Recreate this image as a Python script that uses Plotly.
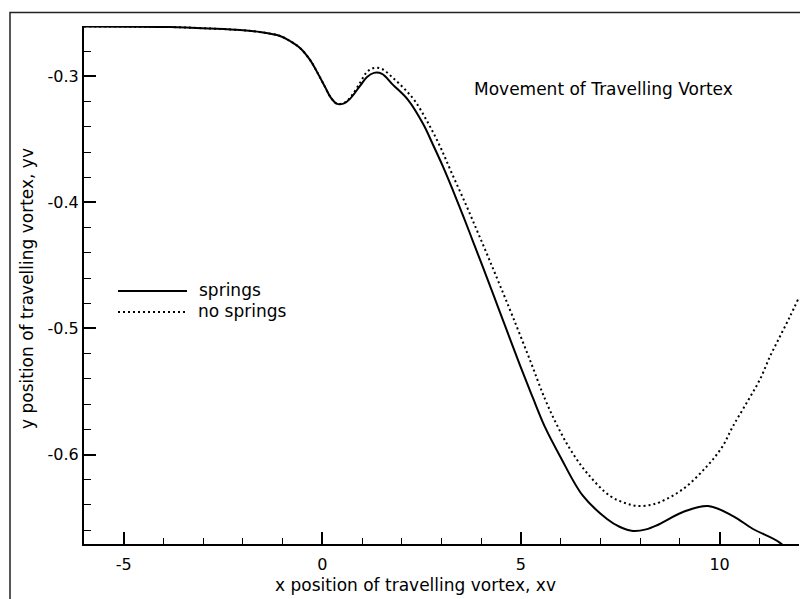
import plotly.graph_objects as go

# ---- data ----
springs_x = [-6.0, -4.842, -3.835, -2.828, -2.073, -1.569, -1.066, -0.814, -0.562, -0.310, -0.134, 0.067,
             0.218, 0.370, 0.546, 0.697, 0.949, 1.125, 1.301, 1.502, 1.779, 2.157, 2.535, 2.786, 3.038,
             3.290, 3.542, 3.794, 4.045, 4.322, 4.549, 4.977, 5.304, 5.606, 5.984, 6.563, 7.167, 7.494,
             7.822, 8.149, 8.426, 9.081, 9.710, 10.339, 10.843, 11.523, 12.0]
springs_y = [-0.2604, -0.2605, -0.2608, -0.2620, -0.2632, -0.2648, -0.2679, -0.2719, -0.2774, -0.2869,
             -0.2964, -0.3083, -0.3170, -0.3218, -0.3214, -0.3178, -0.3075, -0.3004, -0.2972, -0.2980,
             -0.3067, -0.3186, -0.3376, -0.3542, -0.3716, -0.3906, -0.4104, -0.4310, -0.4516, -0.4746,
             -0.4936, -0.5292, -0.5553, -0.5783, -0.6013, -0.6329, -0.6511, -0.6575, -0.6606, -0.6594,
             -0.6561, -0.6456, -0.6408, -0.6488, -0.6591, -0.6701, -0.6850]

nosprings_x = [-6.0, -4.842, -3.835, -2.828, -2.073, -1.569, -1.066, -0.814, -0.562, -0.310, -0.134, 0.067,
               0.218, 0.370, 0.546, 0.697, 0.949, 1.125, 1.301, 1.502, 1.779, 2.056, 2.333, 2.660, 2.963,
               3.265, 3.592, 3.894, 4.171, 4.473, 4.801, 5.229, 5.606, 5.908, 6.235, 6.664, 7.243, 7.620,
               7.923, 8.250, 8.502, 9.081, 9.685, 10.063, 10.339, 10.692, 11.019, 11.271, 11.523, 11.775,
               11.976]
nosprings_y = [-0.2604, -0.2605, -0.2608, -0.2620, -0.2632, -0.2648, -0.2679, -0.2719, -0.2774, -0.2869,
               -0.2964, -0.3083, -0.3170, -0.3218, -0.3210, -0.3170, -0.3051, -0.2964, -0.2933, -0.2941,
               -0.3012, -0.3095, -0.3196, -0.3368, -0.3555, -0.3772, -0.4001, -0.4223, -0.4429, -0.4659,
               -0.4912, -0.5252, -0.5561, -0.5767, -0.5956, -0.6147, -0.6329, -0.6385, -0.6408, -0.6401,
               -0.6377, -0.6274, -0.6092, -0.5941, -0.5775, -0.5585, -0.5403, -0.5221, -0.5062, -0.4904,
               -0.4769]

x_ticks = [-5, 0, 5, 10]
x_ticktext = ["-5", "0", "5", "10"]
y_ticks = [-0.3, -0.4, -0.5, -0.6]
y_ticktext = ["-0.3", "-0.4", "-0.5", "-0.6"]

series_names = ["springs", "no springs"]
title_text = "Movement of Travelling Vortex"
x_title = "x position of travelling vortex, xv"
y_title = "y position of travelling vortex, yv"

FONT = "DejaVu Sans"
W, H = 800, 599
L, R, T, B = 84, 1, 26, 55
pw, ph = W - L - R, H - T - B


def px(xp):
    return (xp - L) / pw


def py(yp):
    return (H - B - yp) / ph


fig = go.Figure()
fig.add_trace(go.Scatter(x=springs_x, y=springs_y, mode="lines", name=series_names[0],
                         line=dict(color="black", width=2, shape="spline", smoothing=1.0),
                         showlegend=False))
fig.add_trace(go.Scatter(x=nosprings_x, y=nosprings_y, mode="lines", name=series_names[1],
                         line=dict(color="black", width=2, dash="2px,3px", shape="spline", smoothing=1.0),
                         showlegend=False))

axis_common = dict(showgrid=False, zeroline=False, showline=True, linecolor="black", linewidth=2,
                   ticks="inside", ticklen=12, tickwidth=1.5, tickcolor="black",
                   tickfont=dict(family=FONT, size=16, color="black"))

fig.update_xaxes(range=[-6, 12], tickvals=x_ticks, ticktext=x_ticktext,
                 minor=dict(dtick=1, tick0=0, ticks="inside", ticklen=6, tickwidth=1.2, tickcolor="black"),
                 ticklabelstandoff=5, **axis_common)
fig.update_yaxes(range=[-0.671, -0.26], tickvals=y_ticks, ticktext=y_ticktext,
                 minor=dict(dtick=0.02, tick0=-0.3, ticks="inside", ticklen=7, tickwidth=1.2, tickcolor="black"),
                 **axis_common)

annotations = [
    dict(text=title_text, x=px(472), y=py(89), xref="paper", yref="paper", xanchor="left",
         yanchor="middle", showarrow=False, font=dict(family=FONT, size=17, color="black")),
    dict(text=x_title, x=px(415), y=py(585), xref="paper", yref="paper", xanchor="center",
         yanchor="middle", showarrow=False, font=dict(family=FONT, size=17, color="black")),
    dict(text=y_title, x=px(27), y=py(289), xref="paper", yref="paper", xanchor="center",
         yanchor="middle", showarrow=False, textangle=-90, font=dict(family=FONT, size=17, color="black")),
    dict(text=series_names[0], x=px(197), y=py(290), xref="paper", yref="paper", xanchor="left",
         yanchor="middle", showarrow=False, font=dict(family=FONT, size=17, color="black")),
    dict(text=series_names[1], x=px(196), y=py(311), xref="paper", yref="paper", xanchor="left",
         yanchor="middle", showarrow=False, font=dict(family=FONT, size=17, color="black")),
]

shapes = [
    # outer frame
    dict(type="rect", xref="paper", yref="paper", x0=px(10), x1=px(830), y0=py(640), y1=py(12.5),
         line=dict(color="#222", width=1.5), fillcolor="rgba(0,0,0,0)", layer="below"),
    # legend samples
    dict(type="line", xref="paper", yref="paper", x0=px(118), x1=px(187), y0=py(291), y1=py(291),
         line=dict(color="black", width=2)),
    dict(type="line", xref="paper", yref="paper", x0=px(118), x1=px(187), y0=py(312), y1=py(312),
         line=dict(color="black", width=2, dash="2px,3px")),
]

fig.update_layout(width=W, height=H, margin=dict(l=L, r=R, t=T, b=B, pad=0),
                  paper_bgcolor="white", plot_bgcolor="white",
                  annotations=annotations, shapes=shapes, showlegend=False)

fig.write_html("out.html")
